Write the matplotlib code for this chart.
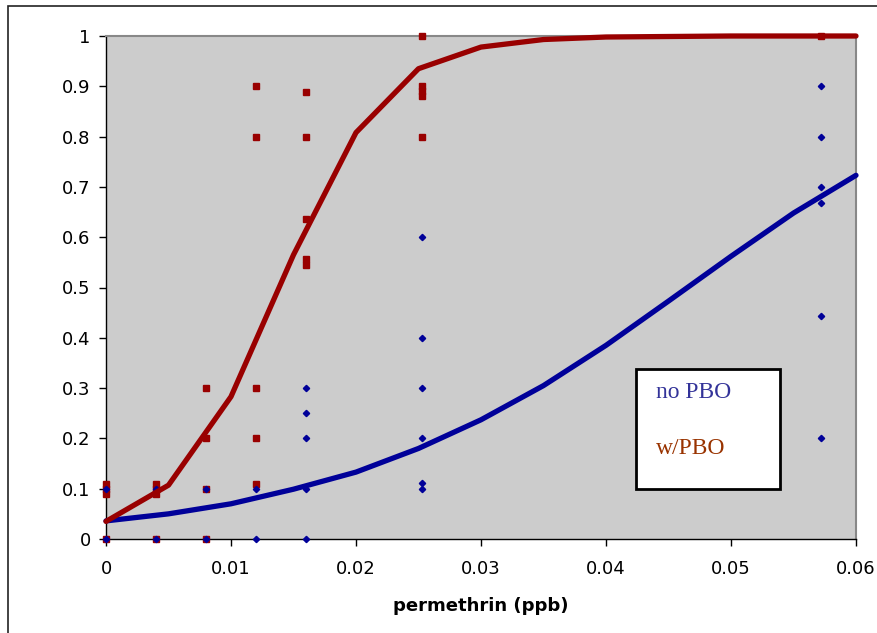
import matplotlib
matplotlib.use("Agg")
import matplotlib.pyplot as plt
from matplotlib.patches import Rectangle
from matplotlib.ticker import FuncFormatter

# fitted curves
fit_x = [0, 0.005, 0.01, 0.015, 0.02, 0.025, 0.03, 0.035, 0.04, 0.045, 0.05, 0.055, 0.06]
fit_pbo = [0.035, 0.107, 0.283, 0.565, 0.808, 0.935, 0.978, 0.993, 0.998, 0.999, 1.0, 1.0, 1.0]
fit_nopbo = [0.036, 0.05, 0.07, 0.099, 0.133, 0.18, 0.237, 0.305, 0.385, 0.473, 0.562, 0.648, 0.723]

# observed mortality, w/PBO
obs_pbo_x = [0, 0, 0, 0, 0.004, 0.004, 0.004, 0.004,
             0.008, 0.008, 0.008, 0.008,
             0.012, 0.012, 0.012, 0.012, 0.012,
             0.016, 0.016, 0.016, 0.016, 0.016,
             0.0253, 0.0253, 0.0253, 0.0253, 0.0253,
             0.0572]
obs_pbo_y = [0, 0.09, 0.1, 0.11, 0, 0.09, 0.1, 0.11,
             0, 0.1, 0.2, 0.3,
             0.11, 0.2, 0.3, 0.8, 0.9,
             0.545, 0.556, 0.636, 0.8, 0.889,
             0.8, 0.88, 0.89, 0.9, 1.0,
             1.0]

# observed mortality, no PBO
obs_nopbo_x = [0, 0, 0.004, 0.004, 0.008, 0.008, 0.012, 0.012,
               0.016, 0.016, 0.016, 0.016, 0.016,
               0.0253, 0.0253, 0.0253, 0.0253, 0.0253, 0.0253,
               0.0572, 0.0572, 0.0572, 0.0572, 0.0572, 0.0572]
obs_nopbo_y = [0, 0.1, 0, 0.1, 0, 0.1, 0, 0.1,
               0, 0.1, 0.2, 0.25, 0.3,
               0.1, 0.111, 0.2, 0.3, 0.4, 0.6,
               0.2, 0.444, 0.667, 0.7, 0.8, 0.9]

red = "#990000"
blue = "#000099"

fig = plt.figure(figsize=(8.77, 6.33), dpi=100)
ax = fig.add_axes([106 / 877, 1 - 539 / 633, 750 / 877, 503 / 633])
ax.set_facecolor("#cccccc")

# chart area border (partly cut off in the original)
fig.patches.append(Rectangle((8 / 877, -0.1), 1.2, 1 - 6 / 633 + 0.1, transform=fig.transFigure,
                             fill=False, edgecolor="#222222", linewidth=1.2))

ax.plot(obs_pbo_x, obs_pbo_y, "s", color=red, markersize=4.4, clip_on=False, zorder=3)
ax.plot(obs_nopbo_x, obs_nopbo_y, "D", color=blue, markersize=3.2, clip_on=False, zorder=3)
ax.plot(fit_x, fit_nopbo, color=blue, linewidth=3.8, solid_capstyle="round", clip_on=False, zorder=4)
ax.plot(fit_x, fit_pbo, color=red, linewidth=3.8, solid_capstyle="round", clip_on=False, zorder=4)

ax.set_xlim(0, 0.06)
ax.set_ylim(0, 1)
ax.set_xticks([0, 0.01, 0.02, 0.03, 0.04, 0.05, 0.06])
ax.set_yticks([i / 10 for i in range(11)])
fmt = FuncFormatter(lambda v, p: "%g" % round(v, 3))
ax.xaxis.set_major_formatter(fmt)
ax.yaxis.set_major_formatter(fmt)
ax.tick_params(direction="out", length=5, width=1, labelsize=13, pad=6, color="black")
ax.tick_params(axis="x", pad=10)
for s in ["top", "right"]:
    ax.spines[s].set_color("#888888")
    ax.spines[s].set_linewidth(1.5)
for s in ["left", "bottom"]:
    ax.spines[s].set_color("black")
    ax.spines[s].set_linewidth(1)

ax.set_xlabel("permethrin (ppb)", fontsize=13, fontweight="bold", labelpad=14)

# legend box drawn like the original text box
box = Rectangle((636 / 877, 1 - 489 / 633), 144 / 877, 120 / 633, transform=fig.transFigure,
                facecolor="white", edgecolor="black", linewidth=2, zorder=5)
fig.patches.append(box)
fig.text(656 / 877, 1 - 393 / 633, "no PBO", color="#333399", fontsize=17,
         family="Liberation Serif", va="center", zorder=6)
fig.text(656 / 877, 1 - 449 / 633, "w/PBO", color="#993300", fontsize=17,
         family="Liberation Serif", va="center", zorder=6)

fig.savefig("out.png", dpi=100)
